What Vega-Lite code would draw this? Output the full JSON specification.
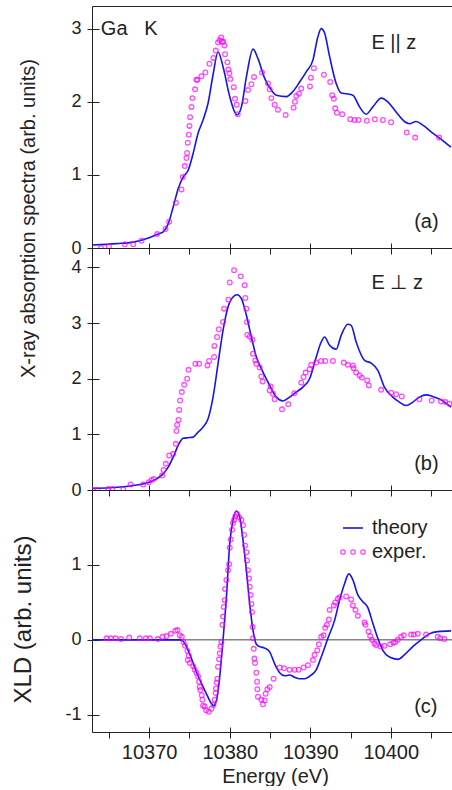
{
  "$schema": "https://vega.github.io/schema/vega-lite/v6.json",
  "autosize": {"type": "pad"},
  "padding": {"left": 11, "top": 6, "right": 0, "bottom": 0},
  "spacing": 0,
  "bounds": "flush",
  "config": {
    "font": "Liberation Sans",
    "view": {"stroke": null},
    "axis": {"grid": false, "domainColor": "#222", "tickColor": "#222", "labelColor": "#222", "titleColor": "#222", "labelFontSize": 20, "titleFontSize": 20, "titleFontWeight": "normal", "labelFont": "Liberation Sans", "titleFont": "Liberation Sans", "domainWidth": 1, "tickWidth": 1, "labelOverlap": false},
    "axisLeft": {"labelFontSize": 18},
    "legend": {"labelFontSize": 20, "labelColor": "#222", "labelFont": "Liberation Sans", "padding": 0}
  },
  "resolve": {"scale": {"color": "independent", "stroke": "independent"}},
  "datasets": {
    "a_theory": [
      {"E":10362.93,"v":0.04},{"E":10365.95,"v":0.06},{"E":10368.02,"v":0.08},{"E":10370.0,"v":0.14},{"E":10371.32,"v":0.2},{"E":10371.74,"v":0.22},{"E":10372.36,"v":0.33},{"E":10372.98,"v":0.56},{"E":10373.6,"v":0.81},{"E":10374.21,"v":0.97},{"E":10374.83,"v":1.06},{"E":10375.45,"v":1.29},{"E":10376.07,"v":1.57},{"E":10376.69,"v":1.75},{"E":10377.31,"v":1.98},{"E":10377.93,"v":2.37},{"E":10378.55,"v":2.68},{"E":10379.17,"v":2.48},{"E":10380.0,"v":2.07},{"E":10380.62,"v":1.86},{"E":10380.91,"v":1.82},{"E":10381.45,"v":1.93},{"E":10382.07,"v":2.34},{"E":10382.89,"v":2.72},{"E":10383.51,"v":2.59},{"E":10384.34,"v":2.32},{"E":10385.17,"v":2.16},{"E":10385.79,"v":2.09},{"E":10387.02,"v":2.07},{"E":10387.85,"v":2.14},{"E":10388.68,"v":2.27},{"E":10389.5,"v":2.41},{"E":10390.33,"v":2.57},{"E":10390.95,"v":2.89},{"E":10391.36,"v":3.0},{"E":10391.78,"v":2.94},{"E":10392.4,"v":2.62},{"E":10393.22,"v":2.25},{"E":10393.84,"v":2.12},{"E":10394.46,"v":2.11},{"E":10395.29,"v":2.09},{"E":10396.12,"v":1.93},{"E":10396.94,"v":1.83},{"E":10397.77,"v":1.93},{"E":10398.8,"v":2.05},{"E":10399.63,"v":2.0},{"E":10400.66,"v":1.86},{"E":10401.69,"v":1.73},{"E":10402.31,"v":1.7},{"E":10403.14,"v":1.73},{"E":10403.97,"v":1.68},{"E":10405.21,"v":1.57},{"E":10406.45,"v":1.47},{"E":10407.48,"v":1.38}
    ],
    "a_exp": [
      {"E":10364.01,"v":0.0},{"E":10365.0,"v":0.02},{"E":10366.98,"v":0.05},{"E":10368.02,"v":0.05},{"E":10369.05,"v":0.1},{"E":10370.99,"v":0.19},{"E":10372.02,"v":0.26},{"E":10372.48,"v":0.36},{"E":10373.31,"v":0.62},{"E":10374.01,"v":0.8},{"E":10374.17,"v":0.97},{"E":10374.42,"v":1.12},{"E":10374.63,"v":1.23},{"E":10374.71,"v":1.3},{"E":10374.79,"v":1.44},{"E":10374.92,"v":1.55},{"E":10375.0,"v":1.67},{"E":10375.08,"v":1.79},{"E":10375.25,"v":1.93},{"E":10375.37,"v":2.05},{"E":10375.7,"v":2.17},{"E":10375.87,"v":2.3},{"E":10375.99,"v":2.3},{"E":10376.49,"v":2.35},{"E":10376.98,"v":2.4},{"E":10377.48,"v":2.52},{"E":10377.98,"v":2.6},{"E":10378.26,"v":2.7},{"E":10378.55,"v":2.81},{"E":10378.76,"v":2.84},{"E":10378.93,"v":2.88},{"E":10379.05,"v":2.82},{"E":10379.2,"v":2.82},{"E":10379.34,"v":2.77},{"E":10379.42,"v":2.65},{"E":10379.71,"v":2.54},{"E":10379.83,"v":2.44},{"E":10379.96,"v":2.39},{"E":10380.08,"v":2.31},{"E":10380.5,"v":2.2},{"E":10380.66,"v":2.04},{"E":10380.87,"v":1.96},{"E":10380.99,"v":1.83},{"E":10381.94,"v":2.01},{"E":10382.27,"v":2.16},{"E":10382.69,"v":2.24},{"E":10383.02,"v":2.34},{"E":10384.01,"v":2.4},{"E":10384.75,"v":2.25},{"E":10384.96,"v":2.17},{"E":10385.17,"v":2.05},{"E":10385.58,"v":1.96},{"E":10385.99,"v":1.89},{"E":10386.94,"v":1.82},{"E":10387.93,"v":1.92},{"E":10388.1,"v":2.0},{"E":10388.26,"v":2.08},{"E":10388.6,"v":2.11},{"E":10388.88,"v":2.18},{"E":10389.96,"v":2.21},{"E":10390.08,"v":2.33},{"E":10390.45,"v":2.46},{"E":10391.69,"v":2.37},{"E":10392.48,"v":2.27},{"E":10392.73,"v":2.09},{"E":10392.93,"v":2.04},{"E":10393.1,"v":1.91},{"E":10393.31,"v":1.85},{"E":10393.97,"v":1.83},{"E":10394.96,"v":1.76},{"E":10395.5,"v":1.75},{"E":10395.99,"v":1.75},{"E":10397.02,"v":1.74},{"E":10398.02,"v":1.76},{"E":10399.01,"v":1.75},{"E":10400.04,"v":1.72},{"E":10401.98,"v":1.58},{"E":10403.02,"v":1.51},{"E":10406.0,"v":1.51}
    ],
    "b_theory": [
      {"E":10362.93,"v":0.03},{"E":10365.12,"v":0.04},{"E":10368.02,"v":0.08},{"E":10370.0,"v":0.14},{"E":10370.91,"v":0.2},{"E":10371.74,"v":0.29},{"E":10372.36,"v":0.41},{"E":10372.98,"v":0.59},{"E":10373.6,"v":0.8},{"E":10374.21,"v":0.93},{"E":10374.83,"v":0.94},{"E":10375.45,"v":0.95},{"E":10376.07,"v":1.04},{"E":10376.69,"v":1.13},{"E":10377.31,"v":1.28},{"E":10377.93,"v":1.67},{"E":10378.55,"v":2.27},{"E":10379.17,"v":2.87},{"E":10379.79,"v":3.29},{"E":10380.41,"v":3.47},{"E":10380.91,"v":3.51},{"E":10381.45,"v":3.44},{"E":10382.07,"v":3.14},{"E":10382.69,"v":2.75},{"E":10383.31,"v":2.39},{"E":10384.13,"v":2.12},{"E":10384.96,"v":1.88},{"E":10385.79,"v":1.67},{"E":10386.61,"v":1.6},{"E":10387.44,"v":1.67},{"E":10388.26,"v":1.76},{"E":10389.09,"v":1.85},{"E":10389.92,"v":2.0},{"E":10390.74,"v":2.39},{"E":10391.36,"v":2.66},{"E":10391.78,"v":2.75},{"E":10392.4,"v":2.6},{"E":10393.22,"v":2.53},{"E":10393.84,"v":2.78},{"E":10394.67,"v":2.98},{"E":10395.08,"v":2.96},{"E":10395.7,"v":2.66},{"E":10396.74,"v":2.33},{"E":10397.56,"v":2.28},{"E":10398.39,"v":2.15},{"E":10399.21,"v":1.85},{"E":10400.25,"v":1.67},{"E":10401.07,"v":1.58},{"E":10401.9,"v":1.52},{"E":10402.73,"v":1.58},{"E":10403.55,"v":1.67},{"E":10404.38,"v":1.71},{"E":10405.21,"v":1.68},{"E":10406.24,"v":1.62},{"E":10407.48,"v":1.49}
    ],
    "b_exp": [
      {"E":10363.06,"v":0.0},{"E":10363.55,"v":0.0},{"E":10364.92,"v":0.02},{"E":10365.41,"v":0.02},{"E":10366.78,"v":0.01},{"E":10367.69,"v":0.1},{"E":10369.26,"v":0.1},{"E":10369.96,"v":0.14},{"E":10370.29,"v":0.18},{"E":10370.58,"v":0.2},{"E":10371.61,"v":0.26},{"E":10371.78,"v":0.36},{"E":10372.07,"v":0.47},{"E":10372.48,"v":0.62},{"E":10372.98,"v":0.65},{"E":10373.31,"v":0.83},{"E":10373.39,"v":1.06},{"E":10373.47,"v":1.17},{"E":10373.64,"v":1.26},{"E":10373.72,"v":1.44},{"E":10373.84,"v":1.61},{"E":10374.05,"v":1.76},{"E":10374.34,"v":1.89},{"E":10374.71,"v":2.0},{"E":10374.88,"v":2.16},{"E":10375.74,"v":2.27},{"E":10376.2,"v":2.27},{"E":10377.23,"v":2.24},{"E":10377.44,"v":2.32},{"E":10378.06,"v":2.39},{"E":10378.1,"v":2.59},{"E":10378.43,"v":2.75},{"E":10378.64,"v":2.89},{"E":10379.17,"v":3.02},{"E":10379.3,"v":3.26},{"E":10379.83,"v":3.42},{"E":10380.0,"v":3.73},{"E":10380.54,"v":3.95},{"E":10381.36,"v":3.84},{"E":10381.86,"v":3.68},{"E":10381.94,"v":3.45},{"E":10382.07,"v":3.26},{"E":10382.15,"v":3.02},{"E":10382.19,"v":2.79},{"E":10382.48,"v":2.76},{"E":10382.81,"v":2.7},{"E":10382.89,"v":2.45},{"E":10383.18,"v":2.33},{"E":10383.31,"v":2.27},{"E":10383.72,"v":2.2},{"E":10383.93,"v":2.04},{"E":10384.09,"v":1.95},{"E":10384.96,"v":1.79},{"E":10385.08,"v":1.86},{"E":10385.37,"v":1.73},{"E":10385.58,"v":1.63},{"E":10386.49,"v":1.45},{"E":10387.27,"v":1.54},{"E":10388.02,"v":1.74},{"E":10388.88,"v":1.93},{"E":10389.17,"v":2.03},{"E":10389.42,"v":2.11},{"E":10389.92,"v":2.17},{"E":10390.12,"v":2.25},{"E":10390.74,"v":2.29},{"E":10391.36,"v":2.32},{"E":10391.86,"v":2.32},{"E":10392.81,"v":2.32},{"E":10394.17,"v":2.29},{"E":10394.67,"v":2.25},{"E":10395.29,"v":2.24},{"E":10395.37,"v":2.19},{"E":10395.7,"v":2.11},{"E":10396.12,"v":2.06},{"E":10396.4,"v":2.02},{"E":10397.07,"v":1.97},{"E":10397.27,"v":1.88},{"E":10398.8,"v":1.8},{"E":10400.04,"v":1.75},{"E":10400.66,"v":1.72},{"E":10401.36,"v":1.68},{"E":10403.55,"v":1.63},{"E":10405.08,"v":1.61},{"E":10406.24,"v":1.59},{"E":10406.78,"v":1.58},{"E":10407.27,"v":1.55}
    ],
    "c_theory": [
      {"E":10362.93,"v":0.0},{"E":10368.02,"v":0.0},{"E":10373.8,"v":0.0},{"E":10374.13,"v":-0.01},{"E":10374.63,"v":-0.09},{"E":10375.25,"v":-0.25},{"E":10375.87,"v":-0.43},{"E":10376.49,"v":-0.58},{"E":10377.11,"v":-0.72},{"E":10377.73,"v":-0.85},{"E":10378.02,"v":-0.88},{"E":10378.35,"v":-0.81},{"E":10378.76,"v":-0.49},{"E":10379.17,"v":0.0},{"E":10379.59,"v":0.57},{"E":10380.0,"v":1.28},{"E":10380.41,"v":1.6},{"E":10380.83,"v":1.72},{"E":10381.24,"v":1.64},{"E":10381.65,"v":1.33},{"E":10382.07,"v":0.93},{"E":10382.48,"v":0.48},{"E":10382.89,"v":0.13},{"E":10383.31,"v":-0.06},{"E":10383.72,"v":-0.09},{"E":10384.34,"v":-0.11},{"E":10384.96,"v":-0.16},{"E":10385.58,"v":-0.32},{"E":10386.2,"v":-0.44},{"E":10386.82,"v":-0.48},{"E":10387.44,"v":-0.47},{"E":10388.06,"v":-0.5},{"E":10388.68,"v":-0.52},{"E":10389.3,"v":-0.52},{"E":10390.12,"v":-0.47},{"E":10390.74,"v":-0.4},{"E":10391.36,"v":-0.23},{"E":10392.19,"v":0.02},{"E":10393.02,"v":0.26},{"E":10393.64,"v":0.53},{"E":10394.26,"v":0.75},{"E":10394.79,"v":0.88},{"E":10395.29,"v":0.8},{"E":10395.91,"v":0.6},{"E":10396.53,"v":0.51},{"E":10397.15,"v":0.43},{"E":10397.77,"v":0.22},{"E":10398.39,"v":0.02},{"E":10399.01,"v":-0.14},{"E":10399.83,"v":-0.23},{"E":10400.87,"v":-0.26},{"E":10401.69,"v":-0.2},{"E":10402.73,"v":-0.09},{"E":10403.76,"v":0.0},{"E":10404.79,"v":0.08},{"E":10405.83,"v":0.11},{"E":10407.48,"v":0.12}
    ],
    "c_exp": [
      {"E":10364.71,"v":0.02},{"E":10365.25,"v":0.02},{"E":10365.83,"v":0.02},{"E":10366.49,"v":0.01},{"E":10367.52,"v":0.03},{"E":10368.84,"v":0.02},{"E":10369.59,"v":0.02},{"E":10370.08,"v":0.02},{"E":10371.07,"v":0.01},{"E":10371.65,"v":0.04},{"E":10372.15,"v":0.05},{"E":10372.69,"v":0.08},{"E":10373.26,"v":0.12},{"E":10373.51,"v":0.13},{"E":10373.8,"v":0.06},{"E":10374.05,"v":0.04},{"E":10374.26,"v":-0.03},{"E":10374.46,"v":-0.08},{"E":10374.75,"v":-0.15},{"E":10374.92,"v":-0.21},{"E":10374.79,"v":-0.27},{"E":10375.04,"v":-0.31},{"E":10375.45,"v":-0.35},{"E":10375.66,"v":-0.4},{"E":10375.87,"v":-0.44},{"E":10376.07,"v":-0.49},{"E":10376.2,"v":-0.56},{"E":10376.28,"v":-0.63},{"E":10376.36,"v":-0.67},{"E":10376.53,"v":-0.74},{"E":10376.61,"v":-0.8},{"E":10376.69,"v":-0.88},{"E":10376.9,"v":-0.89},{"E":10377.07,"v":-0.94},{"E":10377.4,"v":-0.96},{"E":10377.73,"v":-0.92},{"E":10377.98,"v":-0.87},{"E":10378.14,"v":-0.8},{"E":10378.26,"v":-0.71},{"E":10378.3,"v":-0.65},{"E":10378.39,"v":-0.57},{"E":10378.47,"v":-0.52},{"E":10378.55,"v":-0.36},{"E":10378.68,"v":-0.26},{"E":10378.76,"v":-0.18},{"E":10378.84,"v":-0.09},{"E":10378.97,"v":-0.03},{"E":10379.09,"v":0.2},{"E":10379.17,"v":0.31},{"E":10379.26,"v":0.44},{"E":10379.38,"v":0.53},{"E":10379.42,"v":0.68},{"E":10379.59,"v":0.8},{"E":10379.79,"v":0.93},{"E":10379.92,"v":1.01},{"E":10380.0,"v":1.23},{"E":10380.12,"v":1.34},{"E":10380.29,"v":1.47},{"E":10380.41,"v":1.56},{"E":10380.54,"v":1.6},{"E":10380.7,"v":1.65},{"E":10380.91,"v":1.68},{"E":10381.16,"v":1.64},{"E":10381.45,"v":1.6},{"E":10381.65,"v":1.53},{"E":10381.78,"v":1.4},{"E":10381.9,"v":1.26},{"E":10382.07,"v":1.17},{"E":10382.15,"v":1.06},{"E":10382.27,"v":0.93},{"E":10382.4,"v":0.82},{"E":10382.48,"v":0.71},{"E":10382.6,"v":0.6},{"E":10382.69,"v":0.48},{"E":10382.77,"v":0.37},{"E":10382.85,"v":0.17},{"E":10382.89,"v":0.02},{"E":10382.98,"v":-0.12},{"E":10383.06,"v":-0.25},{"E":10383.14,"v":-0.31},{"E":10383.31,"v":-0.44},{"E":10383.39,"v":-0.56},{"E":10383.43,"v":-0.66},{"E":10383.51,"v":-0.76},{"E":10383.93,"v":-0.8},{"E":10384.13,"v":-0.86},{"E":10384.34,"v":-0.81},{"E":10384.46,"v":-0.72},{"E":10384.67,"v":-0.66},{"E":10384.96,"v":-0.63},{"E":10385.45,"v":-0.52},{"E":10386.2,"v":-0.37},{"E":10386.74,"v":-0.38},{"E":10387.44,"v":-0.4},{"E":10388.06,"v":-0.4},{"E":10388.55,"v":-0.4},{"E":10389.17,"v":-0.37},{"E":10389.71,"v":-0.34},{"E":10390.33,"v":-0.27},{"E":10390.54,"v":-0.2},{"E":10390.87,"v":-0.14},{"E":10391.07,"v":-0.06},{"E":10391.36,"v":0.04},{"E":10391.65,"v":0.06},{"E":10391.86,"v":0.16},{"E":10392.07,"v":0.2},{"E":10392.31,"v":0.27},{"E":10392.4,"v":0.4},{"E":10392.93,"v":0.46},{"E":10393.1,"v":0.5},{"E":10393.43,"v":0.55},{"E":10393.64,"v":0.57},{"E":10394.46,"v":0.58},{"E":10395.08,"v":0.54},{"E":10395.29,"v":0.46},{"E":10395.62,"v":0.4},{"E":10395.91,"v":0.32},{"E":10396.74,"v":0.23},{"E":10396.86,"v":0.2},{"E":10397.23,"v":0.11},{"E":10397.44,"v":0.05},{"E":10397.69,"v":0.0},{"E":10397.98,"v":-0.05},{"E":10398.18,"v":-0.07},{"E":10398.72,"v":-0.09},{"E":10399.21,"v":-0.08},{"E":10399.92,"v":-0.06},{"E":10400.33,"v":-0.04},{"E":10400.58,"v":-0.03},{"E":10400.87,"v":0.0},{"E":10401.28,"v":0.04},{"E":10401.61,"v":0.06},{"E":10402.52,"v":0.07},{"E":10402.85,"v":0.07},{"E":10403.35,"v":0.08},{"E":10404.38,"v":0.07},{"E":10405.83,"v":0.04},{"E":10406.12,"v":0.02},{"E":10406.65,"v":0.01}
    ]
  },
  "vconcat": [
    {
      "width": 360, "height": 242,
      "resolve": {"axis": {"x": "independent", "y": "independent"}},
      "layer": [
        {
          "data": {"name": "a_theory"},
          "mark": {"type": "line", "color": "#1515e8", "strokeWidth": 1.6, "interpolate": "monotone", "clip": true},
          "encoding": {
            "x": {"field": "E", "type": "quantitative", "scale": {"domain": [10362.9, 10407.6], "nice": false, "zero": false},
                  "axis": {"orient": "bottom", "values": [10370, 10380, 10390, 10400], "tickSize": -5, "labels": false, "title": null, "domain": true}},
            "y": {"field": "v", "type": "quantitative", "scale": {"domain": [0, 3.31], "nice": false, "zero": false},
                  "axis": {"orient": "left", "values": [0, 1, 2, 3], "tickSize": 5, "labelPadding": 6, "title": "X-ray absorption spectra (arb. units)", "titleX": -58, "titleY": 212, "titleAngle": 270, "titleAlign": "center", "titleBaseline": "alphabetic"}}
          }
        },
        {
          "data": {"name": "a_exp"},
          "mark": {"type": "point", "filled": false, "color": "#ff00ff", "size": 22, "strokeWidth": 1.3, "clip": true},
          "encoding": {
            "x": {"field": "E", "type": "quantitative", "scale": {"domain": [10362.9, 10407.6], "nice": false, "zero": false},
                  "axis": {"orient": "top", "ticks": false, "labels": false, "title": null, "domain": true}},
            "y": {"field": "v", "type": "quantitative", "scale": {"domain": [0, 3.31], "nice": false, "zero": false},
                  "axis": {"orient": "right", "offset": -360, "values": [0, 1, 2, 3], "tickSize": 7, "labels": false, "domain": false, "title": null}}
          }
        },
        {
          "data": {"values": [{}]},
          "mark": {"type": "text", "align": "left", "baseline": "middle", "fontSize": 20, "color": "#222"},
          "encoding": {
            "x": {"datum": 10364.0, "type": "quantitative", "axis": null},
            "y": {"datum": 3.0, "type": "quantitative", "axis": null},
            "text": {"value": "Ga\u00a0\u00a0\u00a0K"}
          }
        },
        {
          "data": {"values": [{}]},
          "mark": {"type": "text", "align": "left", "baseline": "middle", "fontSize": 20, "color": "#222"},
          "encoding": {
            "x": {"datum": 10397.6, "type": "quantitative", "axis": null},
            "y": {"datum": 2.81, "type": "quantitative", "axis": null},
            "text": {"value": "E || z"}
          }
        },
        {
          "data": {"values": [{}]},
          "mark": {"type": "text", "align": "left", "baseline": "middle", "fontSize": 20, "color": "#222"},
          "encoding": {
            "x": {"datum": 10402.9, "type": "quantitative", "axis": null},
            "y": {"datum": 0.35, "type": "quantitative", "axis": null},
            "text": {"value": "(a)"}
          }
        }
      ]
    },
    {
      "width": 360, "height": 242,
      "resolve": {"axis": {"x": "independent", "y": "independent"}},
      "layer": [
        {
          "data": {"name": "b_theory"},
          "mark": {"type": "line", "color": "#1515e8", "strokeWidth": 1.6, "interpolate": "monotone", "clip": true},
          "encoding": {
            "x": {"field": "E", "type": "quantitative", "scale": {"domain": [10362.9, 10407.6], "nice": false, "zero": false},
                  "axis": {"orient": "bottom", "values": [10370, 10380, 10390, 10400], "tickSize": -5, "labels": false, "title": null, "domain": true}},
            "y": {"field": "v", "type": "quantitative", "scale": {"domain": [0, 4.35], "nice": false, "zero": false},
                  "axis": {"orient": "left", "values": [0, 1, 2, 3, 4], "tickSize": 5, "labelPadding": 6, "title": null}}
          }
        },
        {
          "data": {"name": "b_exp"},
          "mark": {"type": "point", "filled": false, "color": "#ff00ff", "size": 22, "strokeWidth": 1.3, "clip": true},
          "encoding": {
            "x": {"field": "E", "type": "quantitative", "scale": {"domain": [10362.9, 10407.6], "nice": false, "zero": false},
                  "axis": {"orient": "top", "values": [10365, 10370, 10375, 10380, 10385, 10390, 10395, 10400, 10405], "tickSize": -6, "labels": false, "title": null, "domain": true}},
            "y": {"field": "v", "type": "quantitative", "scale": {"domain": [0, 4.35], "nice": false, "zero": false},
                  "axis": {"orient": "right", "offset": -360, "values": [0, 1, 2, 3, 4], "tickSize": 7, "labels": false, "domain": false, "title": null}}
          }
        },
        {
          "data": {"values": [{}]},
          "mark": {"type": "text", "align": "left", "baseline": "middle", "fontSize": 20, "color": "#222"},
          "encoding": {
            "x": {"datum": 10397.6, "type": "quantitative", "axis": null},
            "y": {"datum": 3.72, "type": "quantitative", "axis": null},
            "text": {"value": "E ⊥ z"}
          }
        },
        {
          "data": {"values": [{}]},
          "mark": {"type": "text", "align": "left", "baseline": "middle", "fontSize": 20, "color": "#222"},
          "encoding": {
            "x": {"datum": 10402.9, "type": "quantitative", "axis": null},
            "y": {"datum": 0.47, "type": "quantitative", "axis": null},
            "text": {"value": "(b)"}
          }
        }
      ]
    },
    {
      "width": 360, "height": 242,
      "resolve": {"axis": {"x": "independent", "y": "independent"}},
      "layer": [
        {
          "data": {"values": [{}]},
          "mark": {"type": "rule", "color": "#444", "strokeWidth": 1},
          "encoding": {
            "y": {"datum": 0, "type": "quantitative", "scale": {"domain": [-1.23, 2.0], "nice": false, "zero": false}, "axis": null}
          }
        },
        {
          "data": {"name": "c_theory"},
          "mark": {"type": "line", "strokeWidth": 1.6, "interpolate": "monotone", "clip": true},
          "encoding": {
            "x": {"field": "E", "type": "quantitative", "scale": {"domain": [10362.9, 10407.6], "nice": false, "zero": false},
                  "axis": {"orient": "bottom", "values": [10365, 10370, 10375, 10380, 10385, 10390, 10395, 10400, 10405], "tickSize": 6, "labelPadding": 4, "labelExpr": "datum.value % 10 === 0 ? '' + datum.value : ''", "title": "Energy (eV)", "titleX": 183, "titleY": 50, "titleAlign": "center", "titleBaseline": "alphabetic", "domain": true}},
            "y": {"field": "v", "type": "quantitative", "scale": {"domain": [-1.23, 2.0], "nice": false, "zero": false},
                  "axis": {"orient": "left", "values": [-1, 0, 1], "tickSize": 5, "labelPadding": 6, "labelExpr": "replace(datum.label, '\u2212', '-')", "title": "XLD (arb. units)", "titleFontSize": 24, "titleX": -62, "titleY": 129, "titleAngle": 270, "titleAlign": "center", "titleBaseline": "alphabetic"}},
            "color": {"datum": "theory", "type": "nominal", "scale": {"range": ["#1515e8"]},
                      "legend": {"orient": "none", "legendX": 250, "legendY": 27, "title": null, "symbolType": "stroke", "symbolSize": 400, "symbolStrokeWidth": 1.6, "labelOffset": 8}}
          }
        },
        {
          "data": {"name": "c_exp"},
          "mark": {"type": "point", "filled": false, "size": 22, "strokeWidth": 1.3, "clip": true},
          "encoding": {
            "x": {"field": "E", "type": "quantitative", "scale": {"domain": [10362.9, 10407.6], "nice": false, "zero": false},
                  "axis": {"orient": "top", "values": [10365, 10370, 10375, 10380, 10385, 10390, 10395, 10400, 10405], "tickSize": -6, "labels": false, "title": null, "domain": true}},
            "y": {"field": "v", "type": "quantitative", "scale": {"domain": [-1.23, 2.0], "nice": false, "zero": false},
                  "axis": {"orient": "right", "offset": -360, "values": [-1, 0, 1], "tickSize": 7, "labels": false, "domain": false, "title": null}},
            "stroke": {"datum": "exper.", "type": "nominal", "scale": {"range": ["#ff00ff"]},
                       "legend": {"orient": "none", "legendX": 250, "legendY": 51, "title": null, "symbolType": "M -0.78 0 A 0.22 0.22 0 1 1 -1.22 0 A 0.22 0.22 0 1 1 -0.78 0 Z M 0.22 0 A 0.22 0.22 0 1 1 -0.22 0 A 0.22 0.22 0 1 1 0.22 0 Z M 1.22 0 A 0.22 0.22 0 1 1 0.78 0 A 0.22 0.22 0 1 1 1.22 0 Z", "symbolSize": 400, "symbolStrokeWidth": 1.3, "symbolFillColor": "transparent", "labelOffset": 8}}
          }
        },
        {
          "data": {"values": [{}]},
          "mark": {"type": "text", "align": "left", "baseline": "middle", "fontSize": 20, "color": "#222"},
          "encoding": {
            "x": {"datum": 10402.9, "type": "quantitative", "axis": {"orient": "bottom", "values": [10370, 10380, 10390, 10400], "tickSize": -5, "labels": false, "title": null, "domain": false}},
            "y": {"datum": -0.9, "type": "quantitative", "axis": null},
            "text": {"value": "(c)"}
          }
        }
      ]
    }
  ]
}
